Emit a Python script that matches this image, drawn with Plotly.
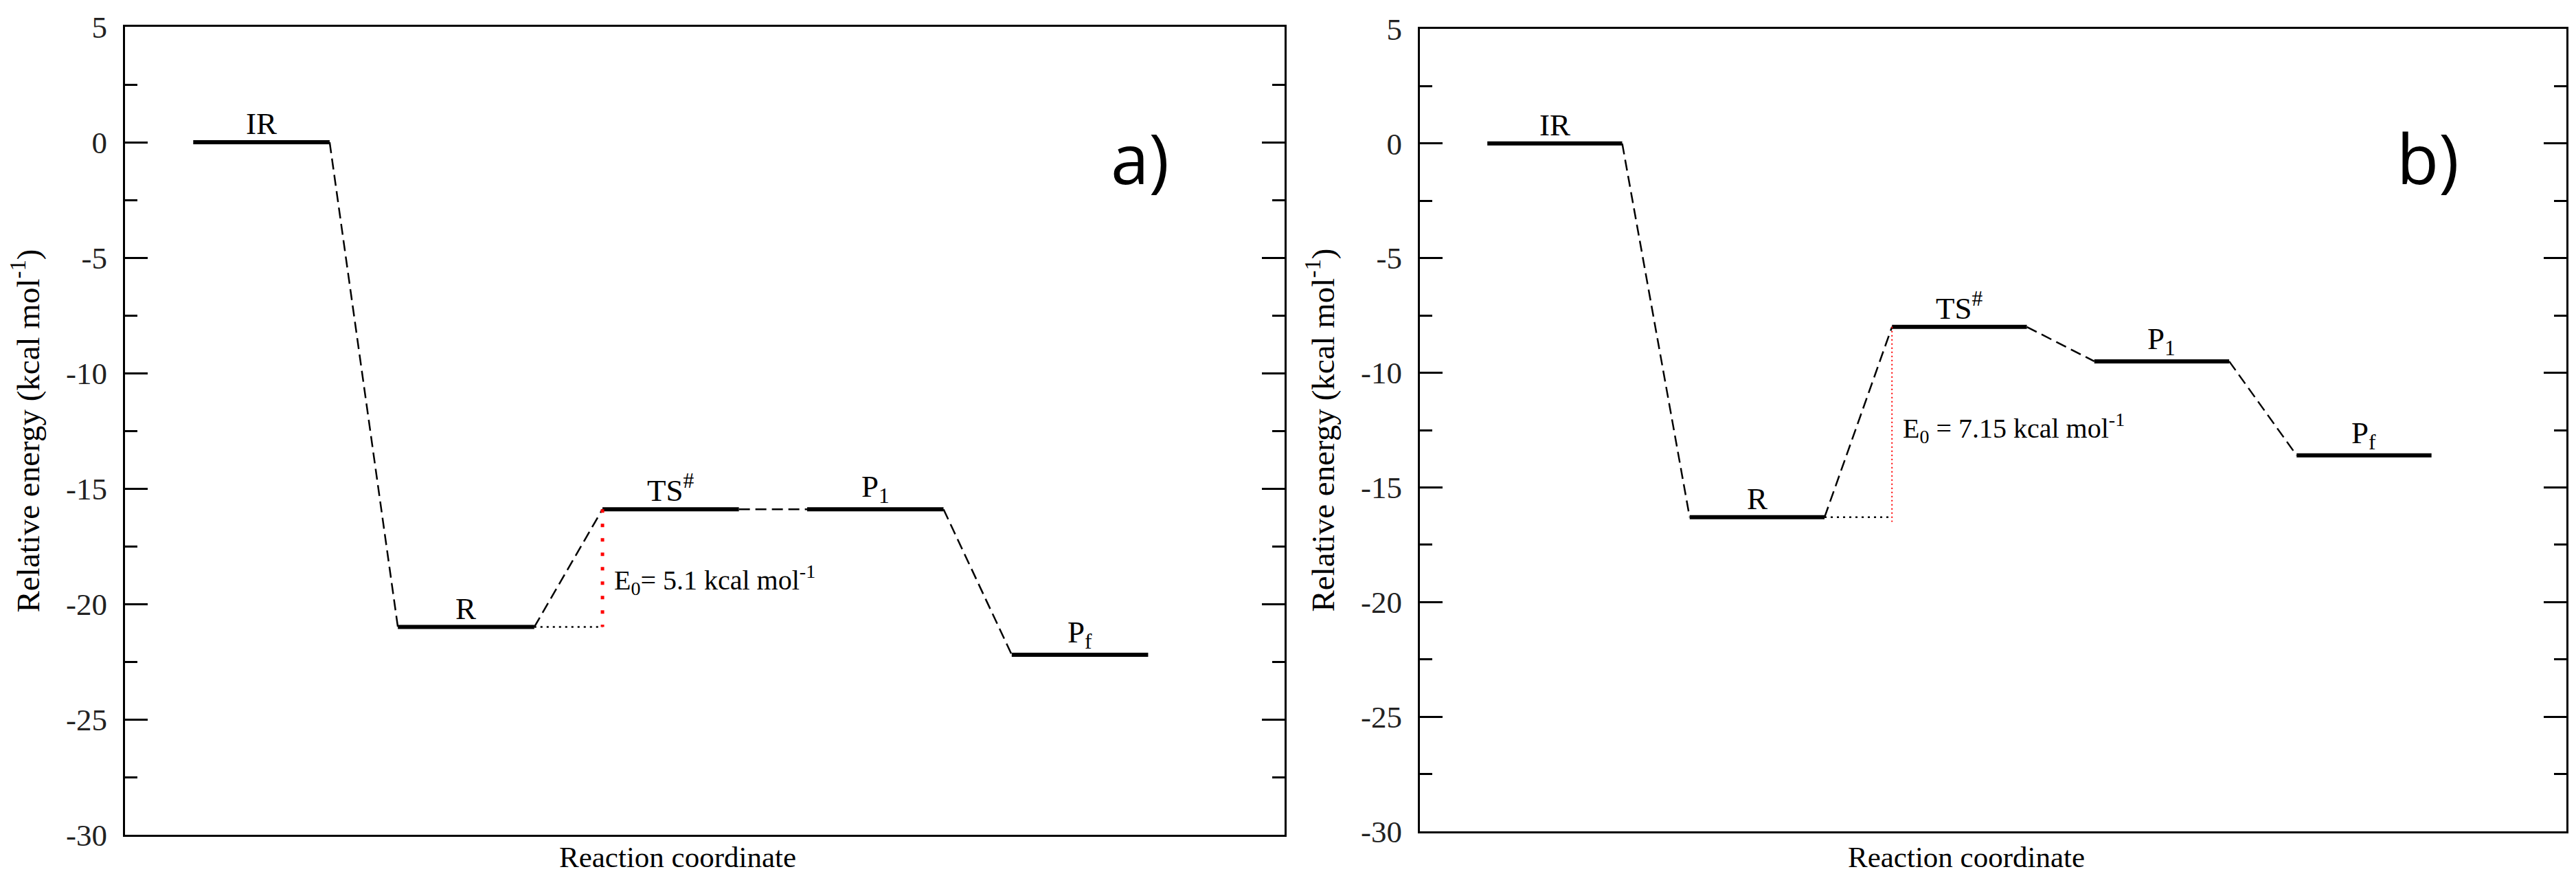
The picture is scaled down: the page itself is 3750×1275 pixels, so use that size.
import plotly.graph_objects as go

# ---------------- data ----------------
levels = ["IR", "R", "TS<sup>#</sup>", "P<sub>1</sub>", "P<sub>f</sub>"]
energy_a = [0.0, -21.0, -15.9, -15.9, -22.2]
energy_b = [0.0, -16.3, -8.0, -9.5, -13.6]
barrier_a = [-15.9, -21.0]          # E0 bracket: TS level down to R level
barrier_b = [-8.0, -16.5]
e0_text_a = "E<sub>0</sub>= 5.1 kcal mol<sup>-1</sup>"
e0_text_b = "E<sub>0</sub> = 7.15 kcal mol<sup>-1</sup>"
y_tickvals = [5, 0, -5, -10, -15, -20, -25, -30]
y_ticktext = ["5", "0", "-5", "-10", "-15", "-20", "-25", "-30"]
y_minorvals = [2.5, -2.5, -7.5, -12.5, -17.5, -22.5, -27.5]
panel_tags = ["a)", "b)"]
x_title = "Reaction coordinate"
y_title = "Relative energy (kcal mol<sup>-1</sup>)"

SERIF = "'Liberation Serif', 'Times New Roman', Times, 'DejaVu Serif', serif"
SANS = "'Open Sans', Lato, 'Noto Sans', sans-serif"
STEP, WIDTH = 3, 2   # each level occupies [STEP*i, STEP*i + WIDTH]
W, H = 3750, 1275

fig = go.Figure()

def add_panel(energies, barrier, e0_text, e0_pos, tag, tag_pos, red_width, red_dash, sfx):
    xr, yr = "x" + sfx, "y" + sfx
    # levels
    lx, ly = [], []
    for i, e in enumerate(energies):
        lx += [STEP * i, STEP * i + WIDTH, None]
        ly += [e, e, None]
    fig.add_trace(go.Scatter(x=lx, y=ly, mode="lines", xaxis=xr, yaxis=yr,
                             line=dict(color="black", width=6), hoverinfo="skip", showlegend=False))
    # dashed connectors
    cx, cy = [], []
    for i in range(len(energies) - 1):
        cx += [STEP * i + WIDTH, STEP * (i + 1), None]
        cy += [energies[i], energies[i + 1], None]
    fig.add_trace(go.Scatter(x=cx, y=cy, mode="lines", xaxis=xr, yaxis=yr,
                             line=dict(color="black", width=2.5, dash="16px,8px"),
                             hoverinfo="skip", showlegend=False))
    # dotted horizontal from R to TS position
    fig.add_trace(go.Scatter(x=[STEP * 1 + WIDTH, STEP * 2], y=[energies[1], energies[1]],
                             mode="lines", xaxis=xr, yaxis=yr,
                             line=dict(color="black", width=2.5, dash="3px,6px"),
                             hoverinfo="skip", showlegend=False))
    # red vertical barrier
    fig.add_trace(go.Scatter(x=[STEP * 2, STEP * 2], y=barrier, mode="lines", xaxis=xr, yaxis=yr,
                             line=dict(color="#ff0000", width=red_width, dash=red_dash),
                             hoverinfo="skip", showlegend=False))
    # level labels
    for i, (lab, e) in enumerate(zip(levels, energies)):
        fig.add_annotation(x=STEP * i + WIDTH / 2, y=e, xref=xr, yref=yr, text=lab,
                           showarrow=False, yanchor="bottom", xanchor="center",
                           font=dict(family=SERIF, size=45, color="black"))
    fig.add_annotation(x=e0_pos[0], y=e0_pos[1], xref=xr, yref=yr, text=e0_text,
                       showarrow=False, xanchor="left", yanchor="middle",
                       font=dict(family=SERIF, size=40, color="black"))
    fig.add_annotation(x=tag_pos[0], y=tag_pos[1], xref=xr, yref=yr, text=tag,
                       showarrow=False, xanchor="center", yanchor="middle",
                       font=dict(family=SANS, size=100, color="black"))
    # x-axis title (sits slightly left of the axis centre in the original)
    fig.add_annotation(x=7.1, y=1 - 1239 / H, xref=xr, yref="paper", text=x_title,
                       showarrow=False, xanchor="center", yanchor="middle",
                       font=dict(family=SERIF, size=43, color="black"))

add_panel(energy_a, barrier_a, e0_text_a, (6.15, -18.95), panel_tags[0], (13.88, -0.65),
          5, "5px,16px", "")
add_panel(energy_b, barrier_b, e0_text_b, (6.14, -12.4), panel_tags[1], (13.95, -0.6),
          2, "2px,4px", "2")

def xaxis(domain, anchor):
    return dict(domain=domain, anchor=anchor, range=[-1, 16], showline=True, linecolor="black",
                linewidth=3, mirror=True, ticks="", showticklabels=False, showgrid=False,
                zeroline=False, automargin=False)

def yaxis(domain, anchor):
    return dict(domain=domain, anchor=anchor, range=[-30, 5], showline=True, linecolor="black",
                linewidth=3, mirror="ticks", ticks="inside", ticklen=33, tickwidth=3,
                tickcolor="black", tickmode="array", tickvals=y_tickvals, ticktext=y_ticktext,
                minor=dict(ticks="inside", ticklen=18, tickwidth=3, tickcolor="black",
                           tickmode="array", tickvals=y_minorvals),
                ticklabelstandoff=14,
                tickfont=dict(family=SERIF, size=45, color="#222222"),
                showgrid=False, zeroline=False, automargin=False,
                title=dict(text=y_title, standoff=24,
                           font=dict(family=SERIF, size=47, color="black")))

fig.update_layout(
    template="none",
    width=W, height=H,
    font=dict(family=SERIF, color="black"),
    margin=dict(l=0, r=0, t=0, b=0, pad=0, autoexpand=False),
    paper_bgcolor="white", plot_bgcolor="white",
    showlegend=False,
    xaxis=xaxis([174 / W, 1862 / W], "y"),
    yaxis=yaxis([1 - 1207 / H, 1 - 31 / H], "x"),
    xaxis2=xaxis([2059 / W, 3728 / W], "y2"),
    yaxis2=yaxis([1 - 1202 / H, 1 - 34 / H], "x2"),
)

fig.write_html("out.html")
